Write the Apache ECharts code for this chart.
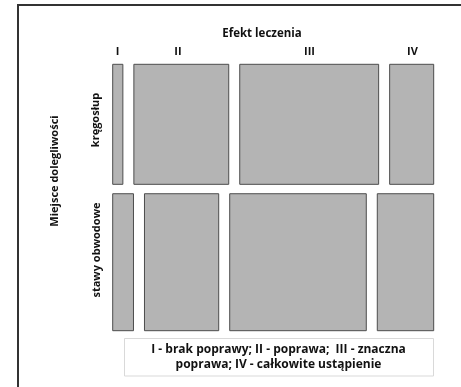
<!DOCTYPE html>
<html><head><meta charset="utf-8">
<script src="https://cdn.jsdelivr.net/npm/echarts@6/dist/echarts.min.js"></script>
<style>html,body{margin:0;padding:0;background:#fff}#c{width:461px;height:387px}</style>
</head><body><div id="c"></div>
<script>
const places = ['kręgosłup', 'stawy obwodowe'];
const effects = ['I', 'II', 'III', 'IV'];
const kregoslup = [3, 28, 41, 13];
const stawy = [7, 25, 46, 19];
const rowsData = [kregoslup, stawy];
const xTitle = 'Efekt leczenia';
const yTitle = 'Miejsce dolegliwości';
const legendText = 'I - brak poprawy; II - poprawa;  III - znaczna\npoprawa; IV - całkowite ustąpienie';

const gx = 11 / 288, gy = 9.4 / 257;
const total = rowsData.flat().reduce((a, b) => a + b, 0);
const cells = [];
let yc = 0;
rowsData.forEach((row, r) => {
  const rs = row.reduce((a, b) => a + b, 0);
  const h = rs / total;
  let xc = 0;
  row.forEach((v, c) => {
    const w = v / rs;
    cells.push([xc, xc + w, yc, yc + h, r, c]);
    xc += w + gx;
  });
  yc += h + gy;
});

const font = '"Open Sans", "Liberation Sans", sans-serif';
const chart = echarts.init(document.getElementById('c'), null, {renderer: 'canvas'});
const txt = (x, y, t, rot, size) => ({
  type: 'text', x: x, y: y, rotation: rot || 0,
  style: {text: t, font: 'bold ' + (size || 11) + 'px ' + font, fill: '#111', textAlign: 'center', textVerticalAlign: 'middle'}
});
chart.setOption({
  animation: false,
  grid: {left: 112.7, right: 27.3, top: 64.3, bottom: 56.3},
  xAxis: {type: 'value', min: 0, max: 1 + 3 * gx, show: false},
  yAxis: {type: 'value', min: 0, max: 1 + gy, inverse: true, show: false},
  series: [{
    type: 'custom',
    data: cells,
    encode: {x: [0, 1], y: [2, 3]},
    renderItem: (params, api) => {
      const p0 = api.coord([api.value(0), api.value(2)]);
      const p1 = api.coord([api.value(1), api.value(3)]);
      return {
        type: 'rect',
        shape: {x: p0[0], y: p0[1], width: p1[0] - p0[0], height: p1[1] - p0[1]},
        style: {fill: '#b4b4b4', stroke: '#4d4d4d', lineWidth: 1}
      };
    }
  }],
  graphic: [
    {type: 'line', shape: {x1: 17, y1: 5, x2: 461, y2: 5}, style: {stroke: '#333', lineWidth: 2}},
    {type: 'line', shape: {x1: 18, y1: 4, x2: 18, y2: 387}, style: {stroke: '#333', lineWidth: 2}},
    txt(262, 34, xTitle, 0, 11.5),
    txt(117.5, 52, effects[0]), txt(178, 52, effects[1]), txt(309.5, 52, effects[2]), txt(412.5, 52, effects[3]),
    txt(55, 171, yTitle, Math.PI / 2, 11),
    txt(95.5, 120, places[0], Math.PI / 2, 11),
    txt(96.5, 250, places[1], Math.PI / 2, 11),
    {type: 'rect', shape: {x: 124.5, y: 338.5, width: 309, height: 37.5}, style: {fill: '#fff', stroke: '#d9d9d9', lineWidth: 1}},
    {type: 'text', x: 278.5, y: 357, style: {text: legendText, font: 'bold 12px ' + font, fill: '#111', textAlign: 'center', textVerticalAlign: 'middle', lineHeight: 15}}
  ]
});
</script></body></html>
